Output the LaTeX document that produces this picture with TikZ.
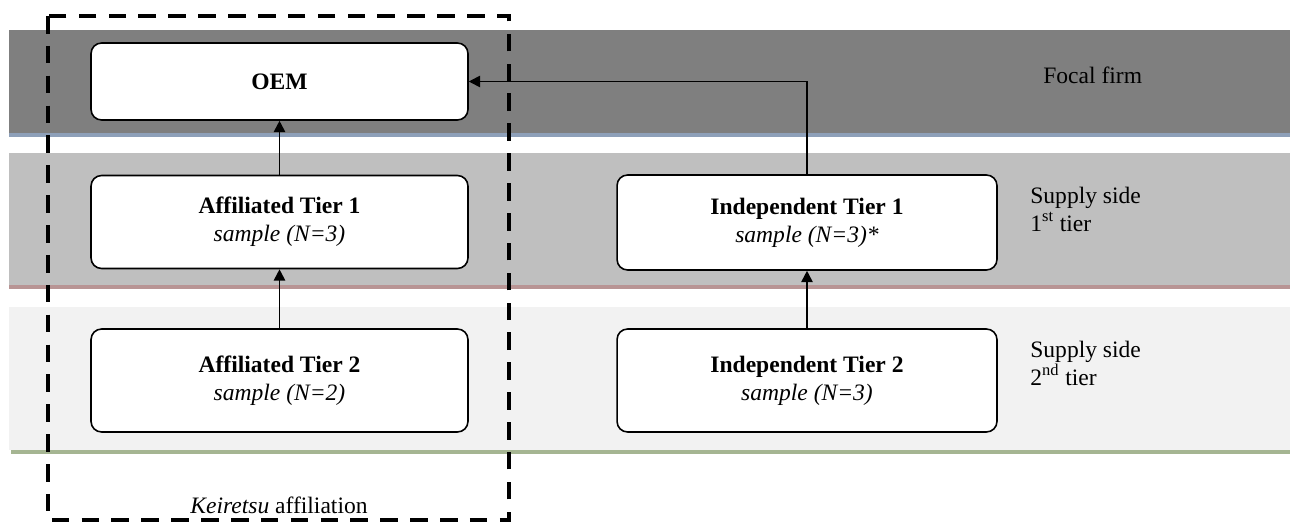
\documentclass[tikz,border=0pt]{standalone}
\usepackage{fontspec}
\setmainfont{Liberation Serif}
\usetikzlibrary{arrows.meta}
\definecolor{bandDark}{HTML}{7F7F7F}
\definecolor{bandMid}{HTML}{BFBFBF}
\definecolor{bandLight}{HTML}{F2F2F2}
\definecolor{lineBlue}{HTML}{8EA0B9}
\definecolor{lineRed}{HTML}{B89494}
\definecolor{lineGreen}{HTML}{A5B592}
\tikzset{
  firmbox/.style={draw=black, line width=0.9pt, fill=white, rounded corners=6pt,
    align=center, inner sep=0pt, font=\fontsize{13.4}{16}\selectfont},
  sidelabel/.style={anchor=west, align=left, inner sep=0pt, font=\fontsize{13.4}{16}\selectfont},
  flow/.style={line width=1pt, -{Triangle[length=6.5pt,width=6.5pt]}},
  keiretsu/.style={draw=black, line width=2.3pt, dash pattern=on 10pt off 7pt}
}
\begin{document}
\begin{tikzpicture}[x=0.02cm, y=-0.02cm]
\useasboundingbox (0,0) rectangle (1290,524);
% bands
\fill[bandDark] (9,30) rectangle (1290,133);
\fill[lineBlue] (9,133) rectangle (1290,137);
\fill[bandMid] (9,153) rectangle (1290,285);
\fill[lineRed] (9,285) rectangle (1290,289);
\fill[bandLight] (9,307) rectangle (1290,450);
\fill[lineGreen] (11,450) rectangle (1290,454);
% keiretsu dashed box
\draw[keiretsu] (48,16) rectangle (509,520);
\node[inner sep=0pt, font=\fontsize{13.4}{16}\selectfont] (kei) at (279,505) {\textit{Keiretsu} affiliation};
% nodes
\node[firmbox, minimum width=7.54cm, minimum height=1.54cm] (oem) at (279.5,81.5) {\textbf{OEM}};
\node[firmbox, minimum width=7.54cm, minimum height=1.86cm] (aff1) at (279.5,222) {\textbf{Affiliated Tier 1}\\\textit{sample (N=3)}};
\node[firmbox, minimum width=7.54cm, minimum height=2.06cm] (aff2) at (279.5,380.5) {\textbf{Affiliated Tier 2}\\\textit{sample (N=2)}};
\node[firmbox, minimum width=7.6cm, minimum height=1.9cm] (ind1) at (807,222.5) {\textbf{Independent Tier 1}\\\textit{sample (N=3)*}};
\node[firmbox, minimum width=7.6cm, minimum height=2.06cm] (ind2) at (807,380.5) {\textbf{Independent Tier 2}\\\textit{sample (N=3)}};
% side labels
\node[sidelabel] (focal) at (1043,75) {Focal firm};
\node[sidelabel] (sup1) at (1030,209) {Supply side\\1\textsuperscript{st} tier};
\node[sidelabel] (sup2) at (1030,363) {Supply side\\2\textsuperscript{nd} tier};
% arrows
\draw[flow] (aff1.north) -- (oem.south);
\draw[flow] (aff2.north) -- (aff1.south);
\draw[flow] (ind2.north) -- (ind1.south);
\draw[flow] (ind1.north) |- (oem.east);
\end{tikzpicture}
\end{document}
